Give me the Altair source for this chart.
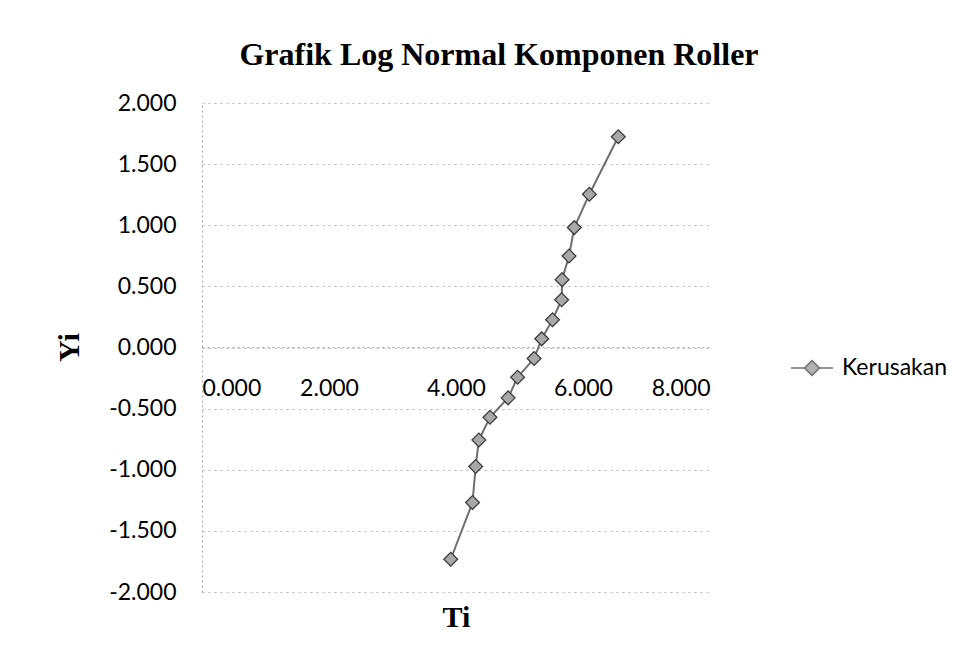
import altair as alt
import pandas as pd

ti = [3.917, 4.26, 4.31, 4.36, 4.535, 4.82, 4.97, 5.23, 5.35, 5.52, 5.664, 5.67, 5.78, 5.863, 6.10, 6.556]
yi = [-1.732, -1.268, -0.973, -0.757, -0.571, -0.412, -0.243, -0.09, 0.071, 0.227, 0.391, 0.555, 0.748, 0.981, 1.254, 1.724]
series = ["Kerusakan"] * len(ti)
x_ticks = [0, 2, 4, 6, 8]
y_ticks = [-2, -1.5, -1, -0.5, 0, 0.5, 1, 1.5, 2]

df = pd.DataFrame({"Ti": ti, "Yi": yi, "Seri": series})

LABEL_FONT = "Lato"
SERIF = "Liberation Serif"
LABEL_EXPR = "(datum.value < 0 ? '-' : '') + format(abs(datum.value), '.3f')"

x_enc = alt.X("Ti:Q", scale=alt.Scale(domain=[0, 8], nice=False, zero=False),
              axis=alt.Axis(values=x_ticks, labelExpr=LABEL_EXPR, title="Ti", offset=-245,
                            ticks=False, grid=False, domain=True, domainColor="#a8a8a8",
                            domainDash=[2, 3],
                            labelFont=LABEL_FONT, labelFontSize=23, labelColor="#000",
                            labelPadding=30, titleFont=SERIF, titleFontSize=30,
                            titleFontWeight="bold", titleColor="#000",
                            titleY=270, titleBaseline="middle"))
y_enc = alt.Y("Yi:Q", scale=alt.Scale(domain=[-2, 2], nice=False, zero=False),
              axis=alt.Axis(values=y_ticks, labelExpr=LABEL_EXPR, title="Yi",
                            ticks=False, grid=True, gridColor="#b5b5b5", gridDash=[2, 4],
                            gridWidth=1, domain=True, domainColor="#a8a8a8",
                            domainDash=[2, 3],
                            labelFont=LABEL_FONT, labelFontSize=23, labelColor="#000",
                            labelPadding=26, titleFont=SERIF, titleFontSize=30,
                            titleFontWeight="bold", titleColor="#000",
                            titleAngle=270, titleX=-133, titleY=244,
                            titleBaseline="middle", titleAlign="center"))

color_enc = alt.Color("Seri:N", scale=alt.Scale(range=["#6f6f6f"]),
                      legend=alt.Legend(title=None, orient="none", legendX=588, legendY=243,
                                        symbolType="M-1,0L-0.36,0M0.36,0L1,0M-0.36,0L0,-0.36L0.36,0L0,0.36Z",
                                        symbolSize=1764, symbolStrokeWidth=1.5,
                                        symbolFillColor="#b0b0b0", symbolStrokeColor="#6f6f6f",
                                        labelFont=LABEL_FONT, labelFontSize=23, labelColor="#000",
                                        labelOffset=8))

line = alt.Chart(df).mark_line(strokeWidth=2).encode(x=x_enc, y=y_enc, color=color_enc, order="Yi:Q")
pts = alt.Chart(df).mark_point(shape="diamond", size=190, filled=True, fill="#a8a8a8",
                               stroke="#3c3c3c", strokeWidth=1.3, opacity=1).encode(
    x=x_enc, y=y_enc)

chart = alt.layer(line, pts).properties(
    width=508, height=489,
    title=alt.TitleParams("Grafik Log Normal Komponen Roller", font=SERIF, fontSize=32,
                          fontWeight="bold", color="#000", anchor="middle", dx=43,
                          offset=20),
    padding={"left": 194, "top": 95, "right": 256, "bottom": 50},
    autosize=alt.AutoSizeParams(type="none"),
    background="white",
).configure_view(stroke=None)

chart.save("out.html", embed_options={"renderer": "svg", "actions": False})
